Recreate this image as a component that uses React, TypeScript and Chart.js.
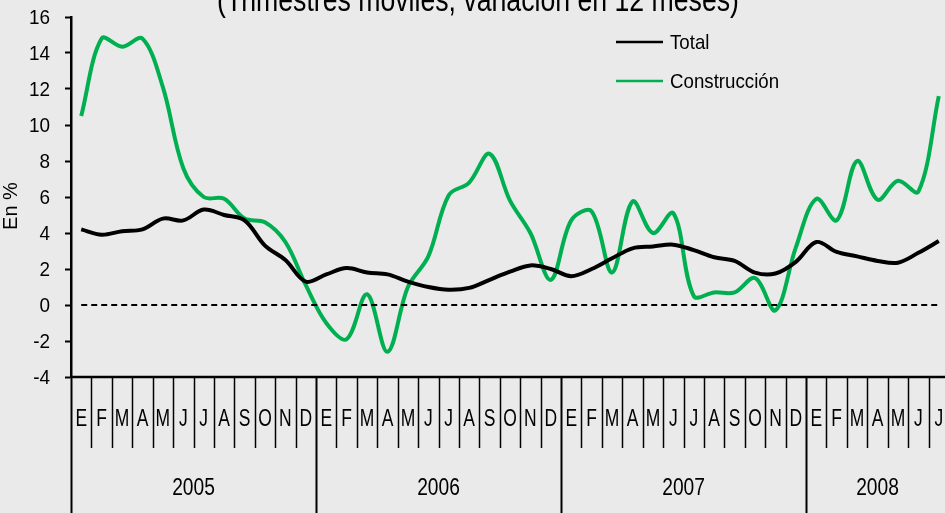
import { useEffect, useRef } from "react";
import { Chart, registerables } from "chart.js";

Chart.register(...registerables);

const monthLetters = ["E", "F", "M", "A", "M", "J", "J", "A", "S", "O", "N", "D"];
const years = ["2005", "2006", "2007", "2008"];
const monthsPerYear = [12, 12, 12, 7];
const categories: string[] = [];
years.forEach((yr, yi) => {
  for (let m = 0; m < monthsPerYear[yi]; m++) categories.push(monthLetters[m] + " " + yr);
});

const total = [
  4.2, 3.9, 4.1, 4.2, 4.8, 4.7, 5.3, 5.0, 4.7, 3.3, 2.5, 1.3,
  1.7, 2.05, 1.8, 1.7, 1.3, 1.0, 0.85, 0.95, 1.4, 1.85, 2.2, 2.0,
  1.6, 2.0, 2.6, 3.15, 3.25, 3.35, 3.05, 2.65, 2.45, 1.8, 1.75, 2.4,
  3.5, 2.95, 2.7, 2.45, 2.35, 2.9, 3.55,
];
const construccion = [
  10.5, 14.8, 14.35, 14.8, 12.1, 7.6, 6.0, 5.9, 4.8, 4.6, 3.5, 1.1,
  -1.0, -1.9, 0.6, -2.6, 1.0, 2.7, 6.1, 6.8, 8.4, 5.8, 4.0, 1.4,
  4.7, 5.2, 1.8, 5.75, 4.0, 5.1, 0.5, 0.7, 0.7, 1.5, -0.3, 3.2,
  5.9, 4.7, 8.0, 5.85, 6.9, 6.3, 11.6,
];
const seriesNames = ["Total", "Construcción"];
const titleText = "(Trimestres móviles, variación en 12 meses)";
const yAxisTitle = "En %";
const yMin = -4;
const yMax = 16;
const yStep = 2;

const FONT = '"Liberation Sans", Arial, sans-serif';
const GREEN = "#00B050";
const BG = "#EAEAEA";

function drawText(
  ctx: CanvasRenderingContext2D,
  text: string,
  x: number,
  y: number,
  size: number,
  sx: number,
  align: CanvasTextAlign,
  baseline: CanvasTextBaseline = "middle",
  rot = 0
) {
  ctx.save();
  ctx.font = `${size}px ${FONT}`;
  ctx.textAlign = align;
  ctx.textBaseline = baseline;
  ctx.fillStyle = "#000";
  ctx.translate(x, y);
  if (rot) ctx.rotate(rot);
  ctx.scale(sx, 1);
  ctx.fillText(text, 0, 0);
  ctx.restore();
}

const decoPlugin = {
  id: "deco",
  afterDraw(chart: any) {
    const { ctx, chartArea } = chart;
    const x = chart.scales.x;
    const y = chart.scales.y;
    const left = chartArea.left;
    const right = chartArea.right;
    const axisY = chartArea.bottom;
    const n = categories.length;
    const w = (right - left) / n;
    ctx.save();
    // zero dashed line
    const y0 = y.getPixelForValue(0);
    ctx.strokeStyle = "#000";
    ctx.lineWidth = 2;
    ctx.setLineDash([6, 4]);
    ctx.beginPath();
    ctx.moveTo(x.getPixelForValue(0), y0);
    ctx.lineTo(x.getPixelForValue(n - 1), y0);
    ctx.stroke();
    ctx.setLineDash([]);
    // x axis line
    ctx.lineWidth = 2.5;
    ctx.beginPath();
    ctx.moveTo(left - 1, axisY);
    ctx.lineTo(right, axisY);
    ctx.stroke();
    // month ticks & year separators
    const yearStarts: number[] = [];
    let acc = 0;
    monthsPerYear.forEach((c) => {
      yearStarts.push(acc);
      acc += c;
    });
    for (let k = 0; k <= n; k++) {
      const px = Math.round(left + k * w) + 0.5;
      const isYear = yearStarts.includes(k);
      ctx.lineWidth = isYear ? 2 : 1.5;
      ctx.beginPath();
      ctx.moveTo(px, axisY);
      ctx.lineTo(px, isYear ? chart.height : axisY + 71);
      ctx.stroke();
    }
    for (let i = 0; i < n; i++) {
      drawText(ctx, categories[i].split(" ")[0], x.getPixelForValue(i), axisY + 43, 23, 0.76, "center");
    }
    years.forEach((yr, yi) => {
      const a = left + yearStarts[yi] * w;
      const b = left + (yearStarts[yi] + monthsPerYear[yi]) * w;
      drawText(ctx, yr, (a + b) / 2, axisY + 111.5, 24, 0.8, "center");
    });
    // y tick labels
    y.ticks.forEach((t: any) => {
      drawText(ctx, String(t.value), 50, y.getPixelForValue(t.value) + 1.5, 21, 0.9, "right");
    });
    // y title
    drawText(ctx, yAxisTitle, 11, 206, 20, 1, "center", "middle", -Math.PI / 2);
    // legend
    const legendItems = [
      { label: seriesNames[0], color: "#000", ly: 42 },
      { label: seriesNames[1], color: GREEN, ly: 81 },
    ];
    legendItems.forEach((it) => {
      ctx.strokeStyle = it.color;
      ctx.lineWidth = 2.5;
      ctx.beginPath();
      ctx.moveTo(616, it.ly);
      ctx.lineTo(663, it.ly);
      ctx.stroke();
      drawText(ctx, it.label, 670, it.ly + 1, 21, 0.89, "left");
    });
    // title
    drawText(ctx, titleText, 478, 11, 32.5, 0.82, "center", "alphabetic");
    ctx.restore();
  },
};

export default function App() {
  const ref = useRef<HTMLCanvasElement | null>(null);
  useEffect(() => {
    if (!ref.current) return;
    const chart = new Chart(ref.current, {
      type: "line",
      data: {
        labels: categories,
        datasets: [
          {
            label: seriesNames[0],
            data: total,
            borderColor: "#000",
            borderWidth: 4,
            pointRadius: 0,
            tension: 0.35,
          },
          {
            label: seriesNames[1],
            data: construccion,
            borderColor: GREEN,
            borderWidth: 4,
            pointRadius: 0,
            tension: 0.35,
          },
        ],
      },
      plugins: [decoPlugin],
      options: {
        animation: false,
        responsive: true,
        maintainAspectRatio: false,
        layout: { padding: { top: 17, bottom: 136, left: 0, right: 0 } },
        plugins: { legend: { display: false }, tooltip: { enabled: false }, title: { display: false } },
        scales: {
          x: { type: "category", offset: true, display: false },
          y: {
            min: yMin,
            max: yMax,
            afterFit: (s: any) => {
              s.width = 71;
            },
            ticks: { stepSize: yStep, display: false },
            grid: { drawOnChartArea: false, tickLength: 6, tickColor: "#000", tickWidth: 2 },
            border: { color: "#000", width: 2.5 },
          },
        },
      },
    });
    return () => chart.destroy();
  }, []);
  return (
    <div style={{ position: "fixed", left: 0, top: 0, width: 945, height: 513, overflow: "hidden", background: BG }}>
      <div style={{ position: "absolute", left: 0, top: 0, width: 949, height: 513 }}>
        <canvas ref={ref} />
      </div>
    </div>
  );
}
